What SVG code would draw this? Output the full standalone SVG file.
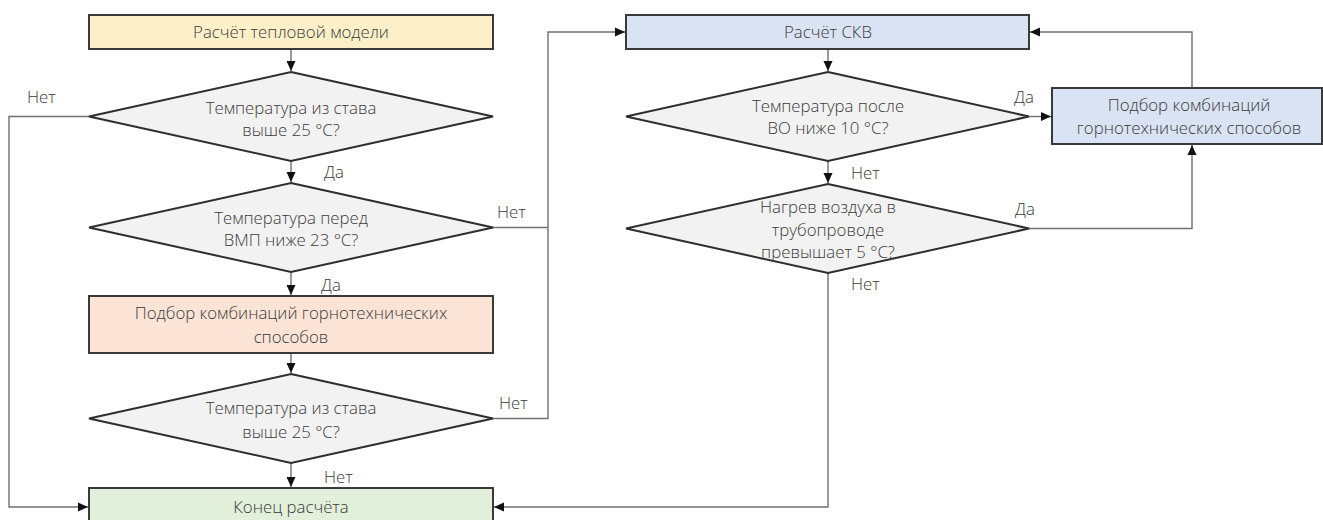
<svg xmlns="http://www.w3.org/2000/svg" width="1323" height="520" viewBox="0 0 1323 520">
<style>
text{font-family:"Open Sans","Noto Sans","DejaVu Sans",sans-serif;font-size:16.8px;font-weight:300;fill:#3a3a3a;text-anchor:middle}
.lbl{text-anchor:start}
.box{stroke:#3a3a3a;stroke-width:2}
.dia{fill:#f2f2f2;stroke:#2e2e2e;stroke-width:2}
.c{fill:none;stroke:#707070;stroke-width:1.4}
</style>
<defs>
<marker id="ah" markerUnits="userSpaceOnUse" markerWidth="10" markerHeight="10" viewBox="0 0 10 10" refX="10" refY="5" orient="auto">
<path d="M0,0.5 L10,5 L0,9.5 Z" fill="#111"/>
</marker>
</defs>
<rect width="1323" height="520" fill="#fff"/>
<g id="connectors">
<path class="c" d="M291,49 V71" marker-end="url(#ah)"/>
<path class="c" d="M291,161 V182" marker-end="url(#ah)"/>
<path class="c" d="M291,272 V295" marker-end="url(#ah)"/>
<path class="c" d="M291,353 V373" marker-end="url(#ah)"/>
<path class="c" d="M291,463 V487" marker-end="url(#ah)"/>
<path class="c" d="M89,116.5 H9 V507 H88" marker-end="url(#ah)"/>
<path class="c" d="M493,227.5 H548"/>
<path class="c" d="M493,418.5 H548 V32 H625" marker-end="url(#ah)"/>
<path class="c" d="M828,49 V71" marker-end="url(#ah)"/>
<path class="c" d="M828,161 V183" marker-end="url(#ah)"/>
<path class="c" d="M828,273 V507 H494" marker-end="url(#ah)"/>
<path class="c" d="M1029,116.5 H1051" marker-end="url(#ah)"/>
<path class="c" d="M1029,228.5 H1192 V145" marker-end="url(#ah)"/>
<path class="c" d="M1192,88 V32 H1030" marker-end="url(#ah)"/>
<text class="lbl" x="27" y="103">Нет</text>
<text class="lbl" x="324" y="178">Да</text>
<text class="lbl" x="497" y="218">Нет</text>
<text class="lbl" x="321" y="291">Да</text>
<text class="lbl" x="499" y="409">Нет</text>
<text class="lbl" x="324" y="483">Нет</text>
<text class="lbl" x="851" y="179">Нет</text>
<text class="lbl" x="851" y="290">Нет</text>
<text class="lbl" x="1014" y="103">Да</text>
<text class="lbl" x="1015" y="215">Да</text>
</g>
<g id="n1">
<rect class="box" x="89" y="15" width="404" height="34" fill="#fdf0c9"/>
<text x="291" y="38">Расчёт тепловой модели</text>
</g>
<g id="d1">
<polygon class="dia" points="291,72 493,116.5 291,161 89,116.5"/>
<text x="291" y="114">Температура из става</text>
<text x="291" y="136">выше 25 °C?</text>
</g>
<g id="d2">
<polygon class="dia" points="291,183 493,227.5 291,272 89,227.5"/>
<text x="291" y="224">Температура перед</text>
<text x="291" y="246">ВМП ниже 23 °C?</text>
</g>
<g id="n2">
<rect class="box" x="89" y="296" width="404" height="57" fill="#fbe4d6"/>
<text x="291" y="319">Подбор комбинаций горнотехнических</text>
<text x="291" y="343">способов</text>
</g>
<g id="d3">
<polygon class="dia" points="291,374 493,418.5 291,463 89,418.5"/>
<text x="291" y="414">Температура из става</text>
<text x="291" y="438">выше 25 °C?</text>
</g>
<g id="n3">
<rect class="box" x="89" y="488" width="404" height="36" fill="#e2efda"/>
<text x="291" y="513">Конец расчёта</text>
</g>
<g id="n4">
<rect class="box" x="626" y="15" width="403" height="34" fill="#dae3f3"/>
<text x="828" y="38">Расчёт СКВ</text>
</g>
<g id="d4">
<polygon class="dia" points="828,72 1029,116.5 828,161 626,116.5"/>
<text x="828" y="112">Температура после</text>
<text x="828" y="134">ВО ниже 10 °C?</text>
</g>
<g id="d5">
<polygon class="dia" points="828,184 1029,228.5 828,273 626,228.5"/>
<text x="828" y="213">Нагрев воздуха в</text>
<text x="828" y="236">трубопроводе</text>
<text x="828" y="258">превышает 5 °C?</text>
</g>
<g id="n5">
<rect class="box" x="1052" y="88" width="270" height="56" fill="#dae3f3"/>
<text x="1189" y="111">Подбор комбинаций</text>
<text x="1189" y="134">горнотехнических способов</text>
</g>
</svg>
